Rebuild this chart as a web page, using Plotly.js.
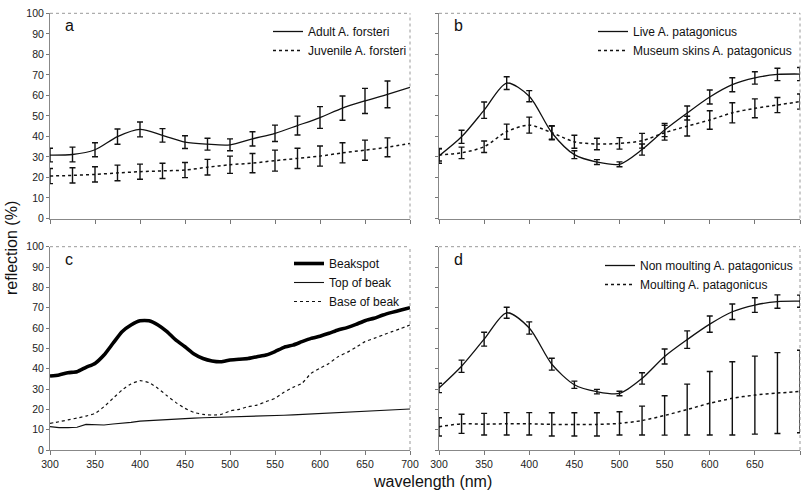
<!DOCTYPE html>
<html>
<head>
<meta charset="utf-8">
<script src="https://cdn.plot.ly/plotly-3.0.1.min.js"></script>
<style>
  html, body { margin: 0; padding: 0; background: #fff; }
  #chart { width: 808px; height: 497px; }
</style>
</head>
<body>
<div id="chart"></div>
<script>
// ---- Data ----
const wl = [300, 325, 350, 375, 400, 425, 450, 475, 500, 525, 550, 575, 600, 625, 650, 675, 700];
const wlBarsA = [300, 325, 350, 375, 400, 425, 450, 475, 500, 525, 550, 575, 600, 625, 650, 675];
const wl10 = [300, 310, 320, 330, 340, 350, 360, 370, 380, 390, 400, 410, 420, 430, 440, 450, 460, 470, 480, 490, 500,
              510, 520, 530, 540, 550, 560, 570, 580, 590, 600, 610, 620, 630, 640, 650, 660, 670, 680, 690, 700];
const xTicks = [300, 350, 400, 450, 500, 550, 600, 650, 700];
const yTicks = [0, 10, 20, 30, 40, 50, 60, 70, 80, 90, 100];

// Panel a
const adultForsteri = [30.9, 31.2, 33.5, 39.9, 43.4, 40.5, 37.2, 36.2, 35.9, 38.8, 41.5, 45.3, 49.2, 53.8, 57.3, 60.5, 63.9];
const adultForsteriErr = [3.3, 3.6, 3.4, 3.7, 3.6, 3.3, 3.1, 2.9, 2.9, 3.5, 4.0, 4.6, 5.3, 5.9, 6.1, 6.5];
const juvForsteri = [20.7, 21.0, 21.5, 22.2, 22.8, 23.2, 23.6, 25.0, 26.2, 27.0, 28.2, 29.3, 30.4, 32.0, 33.3, 34.7, 36.6];
const juvForsteriErr = [3.7, 3.7, 3.7, 3.8, 3.7, 3.7, 3.7, 3.8, 4.2, 4.7, 5.1, 4.9, 4.9, 4.9, 4.9, 4.6];

// Panel b
const livePatag = [30.5, 39.8, 52.8, 66.0, 59.6, 41.8, 31.1, 27.5, 26.4, 33.6, 43.1, 51.4, 59.2, 65.2, 68.5, 70.2, 70.4];
const livePatagErr = [3.6, 3.2, 4.0, 3.1, 2.7, 3.2, 1.9, 1.2, 1.2, 2.7, 3.2, 3.4, 3.4, 3.4, 3.0, 3.0, 3.2];
const museumPatag = [31.0, 32.0, 35.0, 42.3, 45.5, 41.8, 37.4, 36.3, 36.6, 37.9, 41.8, 45.0, 48.0, 51.5, 53.7, 55.3, 57.0];
const museumPatagErr = [3.0, 2.8, 2.8, 3.7, 3.9, 3.4, 3.2, 2.8, 2.8, 3.6, 3.6, 4.8, 4.5, 4.9, 4.6, 3.7, 3.7];

// Panel c
const beakspot = [36.4, 36.9, 38.0, 38.5, 40.7, 42.6, 46.7, 52.5, 58.2, 61.5, 63.6, 63.6, 61.5, 58.2, 54.0, 50.8, 47.2, 45.0, 43.8, 43.4, 44.3,
                  44.6, 45.0, 45.9, 46.7, 48.4, 50.5, 51.6, 53.3, 54.9, 56.0, 57.4, 59.0, 60.2, 61.8, 63.6, 64.8, 66.4, 67.7, 68.9, 70.0];
const topOfBeak = [11.5, 11.0, 11.0, 11.2, 12.6, 12.5, 12.3, 12.8, 13.1, 13.6, 14.2, 14.5, 14.8, 15.0, 15.2, 15.5, 15.7, 15.9, 16.0, 16.1, 16.4,
                   16.5, 16.6, 16.7, 16.8, 16.9, 17.1, 17.3, 17.5, 17.7, 18.0, 18.2, 18.4, 18.6, 18.8, 19.0, 19.2, 19.4, 19.6, 19.9, 20.2];
const baseOfBeak = [13.1, 13.9, 14.8, 15.7, 16.7, 18.0, 21.3, 25.4, 29.5, 32.5, 34.1, 33.1, 30.3, 26.7, 23.3, 20.5, 18.5, 17.5, 17.2, 17.5, 19.2,
                    20.0, 21.3, 22.1, 23.8, 25.4, 28.4, 30.8, 32.8, 37.7, 40.2, 42.6, 45.9, 48.0, 50.5, 53.3, 54.9, 56.6, 58.2, 59.8, 61.5];

// Panel d
const nonMoulting = [30.5, 41.2, 54.5, 67.5, 60.0, 42.2, 32.1, 28.7, 27.8, 35.2, 46.0, 54.3, 61.9, 68.0, 71.3, 73.0, 73.2];
const nonMoultingErr = [2.3, 3.0, 3.4, 2.7, 3.0, 2.9, 1.8, 1.1, 1.1, 2.8, 3.7, 4.3, 4.0, 3.8, 3.6, 3.3, 3.0];
const moulting = [11.4, 12.9, 12.7, 12.9, 12.9, 12.6, 12.6, 12.6, 13.1, 14.5, 17.0, 19.9, 23.0, 25.4, 27.0, 28.0, 28.8];
const moultingErr = [4.5, 4.7, 5.3, 5.5, 5.5, 5.7, 5.7, 5.7, 5.7, 7.1, 9.7, 12.5, 15.6, 18.0, 19.2, 19.9, 20.3];

// ---- Styles ----
const FONT = 'Liberation Sans, Arial, Helvetica, sans-serif';
const errStyle = (arr) => ({type: 'data', array: arr, visible: true, color: '#111', thickness: 1.4, width: 3});
const hidden = {size: 1, color: 'rgba(0,0,0,0)'};

const traces = [
  // a
  {x: wl, y: adultForsteri, xaxis: 'x', yaxis: 'y', mode: 'lines', name: 'Adult A. forsteri', legend: 'legend',
   line: {color: '#111', width: 1.3, shape: 'spline', smoothing: 0.8}},
  {x: wl, y: juvForsteri, xaxis: 'x', yaxis: 'y', mode: 'lines', name: 'Juvenile A. forsteri', legend: 'legend',
   line: {color: '#111', width: 1.5, dash: 'dot', shape: 'spline', smoothing: 0.8}},
  {x: wlBarsA, y: adultForsteri.slice(0, wlBarsA.length), xaxis: 'x', yaxis: 'y', mode: 'markers', marker: hidden,
   error_y: errStyle(adultForsteriErr), showlegend: false, hoverinfo: 'skip'},
  {x: wlBarsA, y: juvForsteri.slice(0, wlBarsA.length), xaxis: 'x', yaxis: 'y', mode: 'markers', marker: hidden,
   error_y: errStyle(juvForsteriErr), showlegend: false, hoverinfo: 'skip'},
  // b
  {x: wl, y: livePatag, xaxis: 'x2', yaxis: 'y2', mode: 'lines', name: 'Live A. patagonicus', legend: 'legend2',
   line: {color: '#111', width: 1.3, shape: 'spline', smoothing: 0.8}, error_y: errStyle(livePatagErr)},
  {x: wl, y: museumPatag, xaxis: 'x2', yaxis: 'y2', mode: 'lines', name: 'Museum skins A. patagonicus', legend: 'legend2',
   line: {color: '#111', width: 1.5, dash: 'dot', shape: 'spline', smoothing: 0.8}, error_y: errStyle(museumPatagErr)},
  // c
  {x: wl10, y: beakspot, xaxis: 'x3', yaxis: 'y3', mode: 'lines', name: 'Beakspot', legend: 'legend3',
   line: {color: '#000', width: 3.6, shape: 'spline', smoothing: 0.5}},
  {x: wl10, y: topOfBeak, xaxis: 'x3', yaxis: 'y3', mode: 'lines', name: 'Top of beak', legend: 'legend3',
   line: {color: '#111', width: 1.1}},
  {x: wl10, y: baseOfBeak, xaxis: 'x3', yaxis: 'y3', mode: 'lines', name: 'Base of beak', legend: 'legend3',
   line: {color: '#111', width: 1.2, dash: 'dot', shape: 'spline', smoothing: 0.5}},
  // d
  {x: wl, y: nonMoulting, xaxis: 'x4', yaxis: 'y4', mode: 'lines', name: 'Non moulting A. patagonicus', legend: 'legend4',
   line: {color: '#111', width: 1.3, shape: 'spline', smoothing: 0.8}, error_y: errStyle(nonMoultingErr)},
  {x: wl, y: moulting, xaxis: 'x4', yaxis: 'y4', mode: 'lines', name: 'Moulting A. patagonicus', legend: 'legend4',
   line: {color: '#111', width: 1.5, dash: 'dot', shape: 'spline', smoothing: 0.8}, error_y: errStyle(moultingErr)}
];

const W = 808, H = 497;
const xdomL = [50 / W, 410 / W];
const xdomR = [439 / W, 800 / W];
const ydomT = [1 - 218.5 / H, 1 - 13.3 / H];
const ydomB = [1 - 450 / H, 1 - 246.7 / H];

function xAxis(dom, anchor, labels) {
  return {domain: dom, anchor: anchor, range: [300, 700], tickvals: xTicks, ticks: 'outside', ticklen: 4,
          tickcolor: '#777', tickwidth: 1, showline: true, linecolor: '#888', linewidth: 1, showgrid: false,
          zeroline: false, showticklabels: labels, tickfont: {family: FONT, size: 10.5, color: '#222'}, fixedrange: true};
}
function yAxis(dom, anchor, labels) {
  return {domain: dom, anchor: anchor, range: [0, 100], tickvals: yTicks, ticks: 'outside', ticklen: 3,
          tickcolor: '#777', tickwidth: 1, showline: true, linecolor: '#888', linewidth: 1, showgrid: false,
          zeroline: false, showticklabels: labels, tickfont: {family: FONT, size: 10.5, color: '#222'}, fixedrange: true};
}
function legendAt(xpx, ypx) {
  return {x: xpx / W, y: 1 - ypx / H, xanchor: 'left', yanchor: 'top', bgcolor: 'rgba(0,0,0,0)', borderwidth: 0,
          font: {family: FONT, size: 12, color: '#111'}, tracegroupgap: 0, itemwidth: 30};
}
function border(xa, ya) {
  const ref = {xref: xa + ' domain', yref: ya + ' domain', line: {color: '#999', width: 1, dash: 'dot'}, type: 'line'};
  return [Object.assign({}, ref, {x0: 0, x1: 1, y0: 1, y1: 1}),
          Object.assign({}, ref, {x0: 1, x1: 1, y0: 0, y1: 1})];
}
function letter(t, xa, ya) {
  return {text: t, xref: xa + ' domain', yref: ya + ' domain', x: 0.035, y: 0.99, xanchor: 'left', yanchor: 'top',
          showarrow: false, font: {family: FONT, size: 16, color: '#111'}};
}

const layout = {
  width: W, height: H,
  margin: {l: 0, r: 0, t: 0, b: 0},
  paper_bgcolor: '#fff', plot_bgcolor: '#fff',
  font: {family: FONT, color: '#111'},
  showlegend: true,
  xaxis: xAxis(xdomL, 'y', false),
  yaxis: yAxis(ydomT, 'x', true),
  xaxis2: xAxis(xdomR, 'y2', false),
  yaxis2: yAxis(ydomT, 'x2', false),
  xaxis3: xAxis(xdomL, 'y3', true),
  yaxis3: yAxis(ydomB, 'x3', true),
  xaxis4: xAxis(xdomR, 'y4', true),
  yaxis4: yAxis(ydomB, 'x4', false),
  legend: legendAt(268, 17),
  legend2: legendAt(593, 17),
  legend3: legendAt(289, 249),
  legend4: legendAt(600, 251),
  shapes: [].concat(border('x', 'y'), border('x2', 'y2'), border('x3', 'y3'), border('x4', 'y4')),
  annotations: [
    letter('a', 'x', 'y'), letter('b', 'x2', 'y2'), letter('c', 'x3', 'y3'), letter('d', 'x4', 'y4'),
    {text: 'reflection (%)', xref: 'paper', yref: 'paper', x: 12 / W, y: 1 - 248 / H, textangle: -90,
     showarrow: false, xanchor: 'center', yanchor: 'middle', font: {family: FONT, size: 16, color: '#111'}},
    {text: 'wavelength (nm)', xref: 'paper', yref: 'paper', x: 432 / W, y: 1 - 481 / H,
     showarrow: false, xanchor: 'center', yanchor: 'middle', font: {family: FONT, size: 16, color: '#111'}}
  ]
};

Plotly.newPlot('chart', traces, layout, {staticPlot: true, displayModeBar: false});
</script>
</body>
</html>
